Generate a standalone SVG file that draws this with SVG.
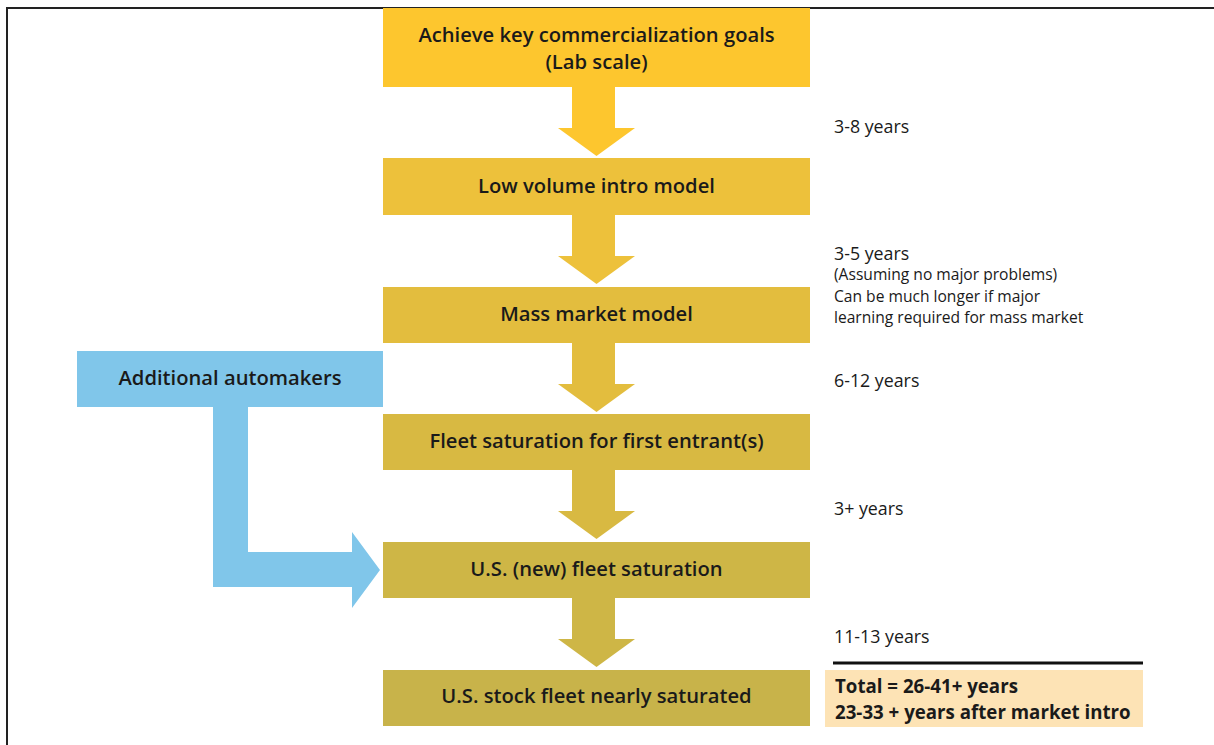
<svg xmlns="http://www.w3.org/2000/svg" width="1214" height="745" viewBox="0 0 1214 745">
<style>
.t{font-family:"Open Sans","Noto Sans",sans-serif;font-weight:600;font-size:20.2px;fill:#1a1a1a;text-anchor:middle}
.r{font-family:"Open Sans","Noto Sans",sans-serif;font-size:17.8px;fill:#1a1a1a}
.s{font-size:15.6px}
.b{font-family:"Open Sans","Noto Sans",sans-serif;font-weight:700;font-size:18.7px;fill:#1a1a1a}
</style>
<rect width="1214" height="745" fill="#fff"/>
<path d="M7,745 V8 H1214" fill="none" stroke="#222" stroke-width="2"/>
<g id="connectors">
<path d="M572,87 H615 V128 H635 L596.5,156 L558,128 H572 Z" fill="#FDC62E"/>
<path d="M572,215 H615 V256 H635 L596.5,284 L558,256 H572 Z" fill="#EDC13B"/>
<path d="M572,343 H615 V384 H635 L596.5,412 L558,384 H572 Z" fill="#E3BD3E"/>
<path d="M572,470 H615 V511 H635 L596.5,539 L558,511 H572 Z" fill="#D8B942"/>
<path d="M572,598 H615 V639 H635 L596.5,667 L558,639 H572 Z" fill="#CEB646"/>
<path d="M213,407 H248 V552 H352 V532 L380,570 L352,608 V587 H213 Z" fill="#80C6EA"/>
</g>
<g id="n1"><rect x="383" y="8" width="427" height="79" fill="#FDC62E"/><text class="t" x="596.5" y="42">Achieve key commercialization goals</text><text class="t" x="596.5" y="69">(Lab scale)</text></g>
<g id="n2"><rect x="383" y="158" width="427" height="57" fill="#EDC13B"/><text class="t" x="596.5" y="193">Low volume intro model</text></g>
<g id="n3"><rect x="383" y="287" width="427" height="56" fill="#E3BD3E"/><text class="t" x="596.5" y="321">Mass market model</text></g>
<g id="n4"><rect x="383" y="414" width="427" height="56" fill="#D8B942"/><text class="t" x="596.5" y="448">Fleet saturation for first entrant(s)</text></g>
<g id="n5"><rect x="383" y="542" width="427" height="56" fill="#CEB646"/><text class="t" x="596.5" y="576">U.S. (new) fleet saturation</text></g>
<g id="n6"><rect x="383" y="670" width="427" height="56" fill="#C8B34A"/><text class="t" x="596.5" y="703">U.S. stock fleet nearly saturated</text></g>
<g id="blue"><rect x="77" y="351" width="306" height="56" fill="#80C6EA"/><text class="t" x="230" y="385">Additional automakers</text></g>
<g id="labels">
<text class="r" x="834" y="133">3-8 years</text>
<text class="r" x="834" y="260">3-5 years</text>
<text class="r s" x="834" y="280">(Assuming no major problems)</text>
<text class="r s" x="834" y="302">Can be much longer if major</text>
<text class="r s" x="834" y="323">learning required for mass market</text>
<text class="r" x="834" y="387">6-12 years</text>
<text class="r" x="834" y="515">3+ years</text>
<text class="r" x="834" y="643">11-13 years</text>
</g>
<g id="total">
<line x1="833" y1="663" x2="1143" y2="663" stroke="#111" stroke-width="3"/>
<rect x="825" y="670" width="318" height="57" fill="#FDE3B5"/>
<text class="b" x="835" y="693">Total = 26-41+ years</text>
<text class="b" x="835" y="719">23-33 + years after market intro</text>
</g>
</svg>
